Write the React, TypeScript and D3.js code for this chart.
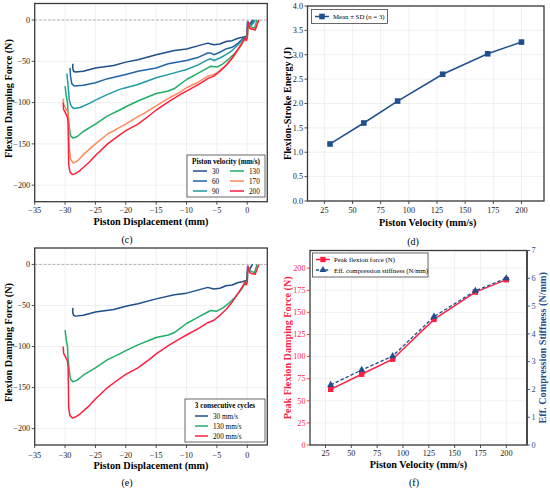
import React from "react";
import * as d3 from "d3";

type P = [number, number];

// ---------- data ----------
const velocities = [30, 60, 90, 130, 170, 200];
const energy = [1.17, 1.6, 2.05, 2.6, 3.02, 3.26];
const peakForce = [63, 80, 97, 142, 173, 187];
const stiffness = [2.16, 2.7, 3.2, 4.62, 5.55, 6.0];

const c30: P[] = [[-28.7,-53],[-28.75,-58],[-28.6,-62],[-28.3,-63],[-27,-62],[-25,-58],[-22,-55],[-20,-51],[-18,-48],[-15,-42],[-12,-37],[-10,-35],[-8,-31],[-6.5,-28],[-6,-29],[-5.5,-30],[-4.5,-29],[-3.5,-26],[-2.5,-25],[-1.5,-22],[-0.8,-21],[-0.3,-20],[-0.1,-20],[0.05,-3],[0.4,-6],[0.7,-2],[0.9,0]];
const c60: P[] = [[-29.2,-58],[-29.1,-68],[-28.9,-77],[-28.5,-80],[-27,-79],[-25,-76],[-23,-71],[-20,-66],[-18,-62],[-15,-58],[-13,-53],[-10,-49],[-8,-45],[-6.5,-40],[-6,-40],[-5.5,-42],[-4.5,-39],[-3.5,-35],[-2.5,-33],[-1.5,-28],[-0.5,-21],[0,-20],[0.05,-2],[0.6,-6],[1.0,-2],[1.2,0]];
const c90: P[] = [[-29.7,-65],[-29.5,-80],[-29.3,-97],[-29,-104],[-28.6,-107],[-27.5,-106],[-26,-101],[-25,-97],[-23,-90],[-21,-84],[-20,-82],[-18,-78],[-15,-70],[-12,-64],[-10,-60],[-8,-54],[-6.5,-48],[-6,-47],[-5.5,-49],[-4.5,-46],[-3.5,-42],[-2.5,-37],[-1.5,-30],[-0.6,-23],[0,-21],[0.1,-2],[0.6,-7],[1.1,-3],[1.3,0]];
const c130: P[] = [[-30,-80],[-29.8,-92],[-29.6,-100],[-29.5,-115],[-29.3,-130],[-29.1,-140],[-28.7,-143],[-28,-141],[-27,-135],[-25,-126],[-23,-116],[-21,-109],[-20,-105],[-18,-98],[-16,-92],[-15,-89],[-13,-86],[-12,-83],[-10,-72],[-8,-64],[-6.5,-58],[-6,-56],[-5,-57],[-4,-53],[-3,-47],[-2,-40],[-1,-31],[-0.4,-23],[0,-21],[0.1,-3],[0.5,-8],[1.2,-10],[1.6,0]];
const c170: P[] = [[-30.3,-95],[-30.25,-102],[-29.8,-108],[-29.5,-112],[-29.4,-130],[-29.3,-155],[-29.1,-168],[-28.7,-173],[-28,-171],[-27,-163],[-25,-150],[-23,-138],[-21,-130],[-20,-126],[-18,-117],[-17,-113],[-15,-104],[-13,-95],[-11,-87],[-10,-82],[-8,-75],[-6.5,-68],[-5.5,-66],[-5,-64],[-3.5,-55],[-2,-42],[-1,-30],[-0.4,-23],[-0.2,-24],[0,-22],[0.1,-3],[0.5,-10],[1.3,-11],[1.8,0]];
const c200: P[] = [[-30.3,-100],[-30.25,-108],[-29.9,-113],[-29.6,-118],[-29.5,-125],[-29.45,-150],[-29.4,-175],[-29.2,-184],[-28.8,-187],[-28.3,-186],[-27.5,-182],[-26,-172],[-25,-164],[-23,-150],[-21,-139],[-20,-134],[-18,-126],[-16,-115],[-15,-109],[-13,-99],[-11,-90],[-10,-86],[-8,-78],[-6.5,-71],[-5.5,-68],[-4.5,-62],[-3.5,-55],[-2.5,-46],[-1.5,-35],[-0.8,-27],[-0.4,-22],[-0.2,-25],[0,-22],[0.1,-2],[0.4,-10],[0.7,-11],[1.3,-12],[1.9,0]];

const velLabels = ["30", "60", "90", "130", "170", "200"];
const cycleLabels = ["30 mm/s", "130 mm/s", "200 mm/s"];

const dispTicks = [-35, -30, -25, -20, -15, -10, -5, 0];
const forceTicks = [-200, -150, -100, -50, 0];
const velTicks = [25, 50, 75, 100, 125, 150, 175, 200];
const energyTicks = [0, 0.5, 1, 1.5, 2, 2.5, 3, 3.5, 4];
const peakTicks = [0, 25, 50, 75, 100, 125, 150, 175, 200];
const stiffTicks = [0, 1, 2, 3, 4, 5, 6, 7];

// ---------- styles ----------
const FONT = "'Liberation Serif','Times New Roman',Times,serif";
const AXC = "#3a3a3a";
const GRID = "#e9e9e9";
const COLS = ["#1c4f8a", "#2066a6", "#1f9aa6", "#1fae68", "#ff8a5c", "#ff1f3d"];
const RED = "#ff1f45";
const BLUE = "#1f4f8f";
const TICK = 8.2;
const LAB = 10.2;

const fmt = (v: number, d = 0) => (v < 0 ? "\u2212" + Math.abs(v).toFixed(d) : v.toFixed(d));

type Frame = { l: number; r: number; t: number; b: number };

function Grid({ f, xs, ys }: { f: Frame; xs: number[]; ys: number[] }) {
  return (
    <g stroke={GRID} strokeWidth={0.7}>
      {xs.map((x, i) => <line key={"x" + i} x1={x} x2={x} y1={f.t} y2={f.b} />)}
      {ys.map((y, i) => <line key={"y" + i} x1={f.l} x2={f.r} y1={y} y2={y} />)}
    </g>
  );
}

function ForcePanel({ f, series, colors, labels, legend, xlabelY, tickY, tag, tagY }: any) {
  const x = d3.scaleLinear().domain([-35, 3.3]).range([f.l, f.r]);
  const y = d3.scaleLinear().domain([-220, 20]).range([f.b, f.t]);
  const line = d3.line<P>().x((d) => x(d[0])).y((d) => y(d[1]));
  const cx = (f.l + f.r) / 2;
  const cy = (f.t + f.b) / 2;
  return (
    <g>
      <Grid f={f} xs={dispTicks.map((v) => x(v))} ys={forceTicks.map((v) => y(v))} />
      <line x1={f.l} x2={f.r} y1={y(0)} y2={y(0)} stroke="#a0a0a0" strokeWidth={0.8} strokeDasharray="2.5,2" />
      {series.map((s: P[], i: number) => (
        <path key={i} d={line(s) || ""} fill="none" stroke={colors[i]} strokeWidth={1.5} strokeLinejoin="round" />
      ))}
      <rect x={f.l} y={f.t} width={f.r - f.l} height={f.b - f.t} fill="none" stroke={AXC} strokeWidth={1.3} />
      {dispTicks.map((v) => (
        <g key={v}>
          <line x1={x(v)} x2={x(v)} y1={f.b} y2={f.b + 3} stroke={AXC} strokeWidth={0.9} />
          <text x={x(v)} y={tickY} fontSize={TICK} textAnchor="middle" fontFamily={FONT} fill="#222">{fmt(v)}</text>
        </g>
      ))}
      {forceTicks.map((v) => (
        <g key={v}>
          <line x1={f.l - 3} x2={f.l} y1={y(v)} y2={y(v)} stroke={AXC} strokeWidth={0.9} />
          <text x={f.l - 4.5} y={y(v) + 2.8} fontSize={TICK} textAnchor="end" fontFamily={FONT} fill="#222">{fmt(v)}</text>
        </g>
      ))}
      <text x={cx} y={xlabelY} fontSize={LAB} fontWeight="bold" textAnchor="middle" fontFamily={FONT}>Piston Displacement (mm)</text>
      <text transform={`translate(12,${cy - 4}) rotate(-90)`} fontSize={LAB} fontWeight="bold" textAnchor="middle" fontFamily={FONT}>Flexion Damping Force (N)</text>
      <text x={127} y={tagY} fontSize={10} textAnchor="middle" fontFamily={FONT}>{tag}</text>
      {legend(colors, labels)}
    </g>
  );
}

function LegendC(colors: string[], labels: string[]) {
  const bx = 187, by = 155, bw = 78, bh = 42;
  return (
    <g fontFamily={FONT}>
      <rect x={bx} y={by} width={bw} height={bh} fill="white" stroke="#444" strokeWidth={0.8} />
      <text x={bx + bw / 2} y={by + 8.5} fontSize={7.2} fontWeight="bold" textAnchor="middle">Piston velocity (mm/s)</text>
      {labels.map((l, i) => {
        const col = Math.floor(i / 3);
        const row = i % 3;
        const lx = bx + 6 + col * 37;
        const ly = by + 16 + row * 10;
        return (
          <g key={l}>
            <line x1={lx} x2={lx + 14} y1={ly} y2={ly} stroke={colors[i]} strokeWidth={1.5} />
            <text x={lx + 19} y={ly + 2.5} fontSize={7.2}>{l}</text>
          </g>
        );
      })}
    </g>
  );
}

function LegendE(colors: string[], labels: string[]) {
  const bx = 185, by = 399, bw = 80, bh = 43;
  return (
    <g fontFamily={FONT}>
      <rect x={bx} y={by} width={bw} height={bh} fill="white" stroke="#444" strokeWidth={0.8} />
      <text x={bx + bw / 2} y={by + 9} fontSize={7.2} fontWeight="bold" textAnchor="middle">3 consecutive cycles</text>
      {labels.map((l, i) => {
        const ly = by + 17 + i * 10;
        return (
          <g key={l}>
            <line x1={bx + 10} x2={bx + 23} y1={ly} y2={ly} stroke={colors[i]} strokeWidth={1.5} />
            <text x={bx + 28} y={ly + 2.5} fontSize={7.2}>{l}</text>
          </g>
        );
      })}
    </g>
  );
}

function EnergyPanel() {
  const f: Frame = { l: 307.5, r: 544, t: 6, b: 201 };
  const x = d3.scaleLinear().domain([10, 220]).range([f.l, f.r]);
  const y = d3.scaleLinear().domain([0, 4]).range([f.b, f.t]);
  const pts: P[] = velocities.map((v, i) => [v, energy[i]]);
  const line = d3.line<P>().x((d) => x(d[0])).y((d) => y(d[1]));
  const s = 5.6;
  return (
    <g>
      <Grid f={f} xs={velTicks.map((v) => x(v))} ys={energyTicks.map((v) => y(v))} />
      <path d={line(pts) || ""} fill="none" stroke={BLUE} strokeWidth={1.5} />
      {pts.map((p, i) => (
        <rect key={i} x={x(p[0]) - s / 2} y={y(p[1]) - s / 2} width={s} height={s} fill={BLUE} />
      ))}
      <rect x={f.l} y={f.t} width={f.r - f.l} height={f.b - f.t} fill="none" stroke={AXC} strokeWidth={1.3} />
      {velTicks.map((v) => (
        <g key={v}>
          <line x1={x(v)} x2={x(v)} y1={f.b} y2={f.b + 3} stroke={AXC} strokeWidth={0.9} />
          <text x={x(v)} y={213} fontSize={TICK} textAnchor="middle" fontFamily={FONT} fill="#222">{v}</text>
        </g>
      ))}
      {energyTicks.map((v) => (
        <g key={v}>
          <line x1={f.l - 3} x2={f.l} y1={y(v)} y2={y(v)} stroke={AXC} strokeWidth={0.9} />
          <text x={f.l - 4.5} y={y(v) + 2.8} fontSize={TICK} textAnchor="end" fontFamily={FONT} fill="#222">{v.toFixed(1)}</text>
        </g>
      ))}
      <text x={(f.l + f.r) / 2 + 2} y={225.5} fontSize={LAB} fontWeight="bold" textAnchor="middle" fontFamily={FONT}>Piston Velocity (mm/s)</text>
      <text transform={`translate(291,${(f.t + f.b) / 2}) rotate(-90)`} fontSize={LAB} fontWeight="bold" textAnchor="middle" fontFamily={FONT}>Flexion-Stroke Energy (J)</text>
      <text x={413} y={245} fontSize={10} textAnchor="middle" fontFamily={FONT}>(d)</text>
      <g fontFamily={FONT}>
        <rect x={311.5} y={9.5} width={76} height={14} fill="white" stroke="#444" strokeWidth={0.8} />
        <line x1={315} x2={329} y1={16.5} y2={16.5} stroke={BLUE} strokeWidth={1.5} />
        <rect x={322 - 2.8} y={16.5 - 2.8} width={5.6} height={5.6} fill={BLUE} />
        <text x={333} y={19} fontSize={6.8}>
          Mean ± SD (<tspan fontStyle="italic">n</tspan> = 3)
        </text>
      </g>
    </g>
  );
}

function PeakPanel() {
  const f: Frame = { l: 310, r: 527, t: 250.5, b: 445 };
  const x = d3.scaleLinear().domain([10, 220]).range([f.l, f.r]);
  const y = d3.scaleLinear().domain([0, 220]).range([f.b, f.t]);
  const y2 = d3.scaleLinear().domain([0, 7]).range([f.b, f.t]);
  const ptsF: P[] = velocities.map((v, i) => [v, peakForce[i]]);
  const ptsS: P[] = velocities.map((v, i) => [v, stiffness[i]]);
  const lineF = d3.line<P>().x((d) => x(d[0])).y((d) => y(d[1]));
  const lineS = d3.line<P>().x((d) => x(d[0])).y((d) => y2(d[1]));
  const tri = d3.symbol().type(d3.symbolTriangle).size(22)();
  const s = 5.4;
  return (
    <g>
      <Grid f={f} xs={velTicks.map((v) => x(v))} ys={peakTicks.map((v) => y(v))} />
      <path d={lineF(ptsF) || ""} fill="none" stroke={RED} strokeWidth={1.5} />
      {ptsF.map((p, i) => (
        <rect key={i} x={x(p[0]) - s / 2} y={y(p[1]) - s / 2} width={s} height={s} fill={RED} />
      ))}
      <path d={lineS(ptsS) || ""} fill="none" stroke={BLUE} strokeWidth={1.3} strokeDasharray="3.5,2" />
      {ptsS.map((p, i) => (
        <path key={i} d={tri || ""} transform={`translate(${x(p[0])},${y2(p[1])})`} fill={BLUE} />
      ))}
      <rect x={f.l} y={f.t} width={f.r - f.l} height={f.b - f.t} fill="none" stroke={AXC} strokeWidth={1.3} />
      <line x1={f.r} x2={f.r} y1={f.t} y2={f.b} stroke="#444" strokeWidth={1.8} />
      {velTicks.map((v) => (
        <g key={v}>
          <line x1={x(v)} x2={x(v)} y1={f.b} y2={f.b + 3} stroke={AXC} strokeWidth={0.9} />
          <text x={x(v)} y={456} fontSize={TICK} textAnchor="middle" fontFamily={FONT} fill="#222">{v}</text>
        </g>
      ))}
      {peakTicks.map((v) => (
        <g key={v}>
          <line x1={f.l - 3} x2={f.l} y1={y(v)} y2={y(v)} stroke={RED} strokeWidth={0.9} />
          <text x={f.l - 4.5} y={y(v) + 2.8} fontSize={TICK} textAnchor="end" fontFamily={FONT} fill={RED}>{v}</text>
        </g>
      ))}
      {stiffTicks.map((v) => (
        <g key={v}>
          <line x1={f.r} x2={f.r + 3} y1={y2(v)} y2={y2(v)} stroke={BLUE} strokeWidth={0.9} />
          <text x={f.r + 4.5} y={y2(v) + 2.8} fontSize={TICK} textAnchor="start" fontFamily={FONT} fill={BLUE}>{v}</text>
        </g>
      ))}
      <text x={(f.l + f.r) / 2} y={467.5} fontSize={LAB} fontWeight="bold" textAnchor="middle" fontFamily={FONT}>Piston Velocity (mm/s)</text>
      <text transform={`translate(291,${(f.t + f.b) / 2}) rotate(-90)`} fontSize={LAB} fontWeight="bold" textAnchor="middle" fontFamily={FONT} fill={RED}>Peak Flexion Damping Force (N)</text>
      <text transform={`translate(546,${(f.t + f.b) / 2}) rotate(-90)`} fontSize={LAB} fontWeight="bold" textAnchor="middle" fontFamily={FONT} fill={BLUE}>Eff. Compression Stiffness (N/mm)</text>
      <text x={414} y={485.5} fontSize={10} textAnchor="middle" fontFamily={FONT}>(f)</text>
      <g fontFamily={FONT}>
        <rect x={312.5} y={253} width={115.5} height={24} fill="white" stroke="#444" strokeWidth={0.8} />
        <line x1={316} x2={330} y1={259.5} y2={259.5} stroke={RED} strokeWidth={1.5} />
        <rect x={323 - 2.7} y={259.5 - 2.7} width={5.4} height={5.4} fill={RED} />
        <text x={334} y={262} fontSize={6.8}>Peak flexion force (N)</text>
        <line x1={316} x2={330} y1={270} y2={270} stroke={BLUE} strokeWidth={1.3} strokeDasharray="3,1.6" />
        <path d={tri || ""} transform="translate(323,270)" fill={BLUE} />
        <text x={334} y={272.5} fontSize={6.8}>Eff. compression stiffness (N/mm)</text>
      </g>
    </g>
  );
}

export default function App() {
  const fc: Frame = { l: 34.7, r: 267.3, t: 3.5, b: 201.7 };
  const fe: Frame = { l: 34.7, r: 267.3, t: 248, b: 445 };
  return (
    <svg width={550} height={490} viewBox="0 0 550 490" style={{ position: "absolute", left: 0, top: 0, background: "white" }}>
      <rect width={550} height={490} fill="white" />
      <ForcePanel
        f={fc}
        series={[c30, c60, c90, c130, c170, c200]}
        colors={COLS}
        labels={velLabels}
        legend={LegendC}
        xlabelY={224.5}
        tickY={213}
        tag="(c)"
        tagY={242.5}
      />
      <ForcePanel
        f={fe}
        series={[c30, c130, c200]}
        colors={[COLS[0], COLS[3], COLS[5]]}
        labels={cycleLabels}
        legend={LegendE}
        xlabelY={469}
        tickY={457.5}
        tag="(e)"
        tagY={485.5}
      />
      <EnergyPanel />
      <PeakPanel />
    </svg>
  );
}
